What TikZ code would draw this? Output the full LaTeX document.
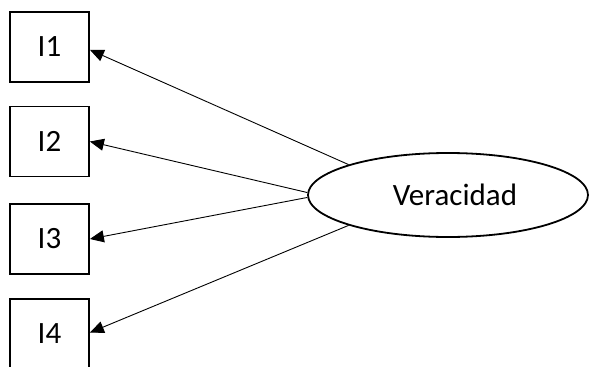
\documentclass[tikz,border=0pt]{standalone}
\usepackage{fontspec}
\setmainfont{Carlito}
\usetikzlibrary{arrows.meta,shapes.geometric}
\begin{document}
\begin{tikzpicture}[x=1pt,y=1pt,
  every node/.style={font=\fontsize{31}{37}\selectfont},
  itembox/.style={draw,line width=1.8pt,minimum width=79pt,minimum height=70pt,inner sep=0pt},
  latent/.style={draw,ellipse,line width=1.8pt,minimum width=280pt,minimum height=84pt,inner sep=0pt},
  load/.style={line width=0.9pt,-{Triangle[length=14pt,width=12pt]}}]
\useasboundingbox (0,0) rectangle (590,-367);
\node[itembox] (I1) at (49.5,-47) {I1};
\node[itembox] (I2) at (49.5,-141.5) {I2};
\node[itembox] (I3) at (49.5,-239) {I3};
\node[itembox] (I4) at (49.5,-334) {I4};
\node[latent] (V) at (448,-195) {\hspace{14pt}Veracidad};
\draw[load] (V.163) -- (I1.-4);
\draw[load] (V.179) -- (I2.east);
\draw[load] (V.181) -- (I3.east);
\draw[load] (V.197) -- (I4.2);
\end{tikzpicture}
\end{document}
